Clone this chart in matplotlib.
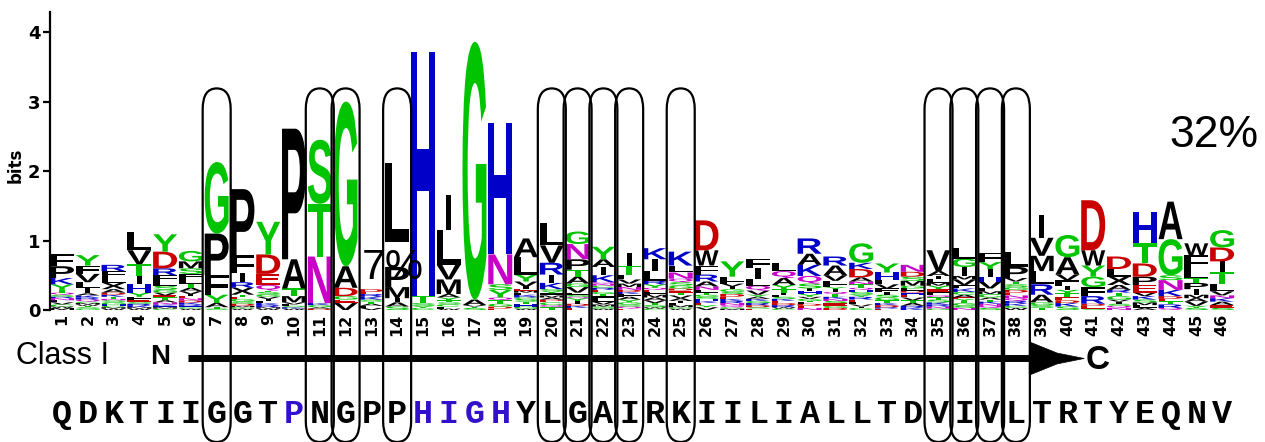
import matplotlib
matplotlib.use('Agg')
import matplotlib.pyplot as plt
from matplotlib.font_manager import FontProperties
from matplotlib.textpath import TextPath
from matplotlib.patches import PathPatch, FancyBboxPatch, Polygon
from matplotlib.transforms import Affine2D

positions = list(range(1, 47))

# residues of each stack, bottom to top (' ' = empty slot)
stack_letters = [
    'MWCVLNRSQTYKPF', 'GSTWMCQRKAILVFY', 'WMCHGSNTKDAXLFR', 'WMKRSEFYHITVL',
    'CMHKNATEVGSLFRDY', 'WCHRKDNEIVATLFSMG', 'STAYFPG', 'WCMDSGETXRIFP',
    'WMRKLIVGSTQEDY', 'WKSLVMTAP', 'DAGKNTS', 'VEGDAG',
    'VLATSKRED', 'SAIMP L', 'CYSTH', 'WFCSTYAMVLI',
    'STVAG', 'EDGTQYSNH', 'WGHTSCRKFMEIVYLA', 'TQCEDAMFYSKIRVL',
    'EKDIYQSLVGATPNG', 'WSMVLFTGERCNQKIAY', 'EQSGYAFKDNMVLTI', 'CWSTVAMFEQYRLIK',
    'WCMFIAVTEDGSQNLK', 'VYEKHSGTLNARFWD', 'MCQNRKEDSGIVFLY', 'ESDRGKAYVQLIF',
    'CWRDEKSFITYAQL', 'NEDLTGVYHISQKAR', 'DGESNKTQIYFLVAR', 'CIVLERYSHQTNADKG',
    'ERDKTGSIFVLHY', 'KRATVEHDLGMSDN', 'GNRKSTQFEYMLIAV', 'NSGTYEACKFVMIGL',
    'SQNKTACMLVHIYF', 'WCKRQNEDGSTVPL', 'TSGARLMVI', 'SKDETYILFVAG',
    'SEDRFGYWD', 'NQSIVGTRAXLD', 'ALMSKVEPDTH', 'QRTEDKNSGA',
    'SYVAMIPTLFW', 'SEAKNVLTIDG',
]

# height of each residue in bits, same order
stack_heights = [
    [.03, .02, .03, .03, .03, .03, .02, .03, .03, .04, .08, .09, .17, .18],
    [.02, .02, .02, .02, .02, .02, .03, .03, .03, .03, .08, .08, .12, .12, .15],
    [.02, .02, .02, .02, .03, .03, .02, .03, .03, .03, .05, .09, .07, .10, .09],
    [.02, .02, .02, .03, .03, .03, .04, .06, .12, .12, .17, .20, .26],
    [.02, .02, .02, .02, .03, .03, .04, .03, .04, .04, .06, .07, .08, .10, .24, .25],
    [.02, .02, .02, .02, .03, .03, .03, .03, .03, .04, .05, .06, .06, .08, .08, .10, .15],
    [.02, .02, .06, .12, .28, .60, 1.03],
    [.02, .02, .02, .03, .03, .04, .03, .03, .10, .08, .13, .26, .95],
    [.02, .02, .03, .03, .03, .03, .03, .03, .04, .02, .08, .16, .28, .47],
    [.02, .02, .02, .02, .03, .09, .11, .42, 1.88],
    [.02, .02, .03, .03, .67, .76, .92],
    [.10, .05, .05, .12, .31, 2.37],
    [.03, .03, .03, .03, .03, .04, .04, .03, .04],
    [.05, .06, .06, .16, .29, .36, 1.13],
    [.03, .03, .04, .10, 3.52],
    [.02, .03, .03, .03, .03, .04, .05, .21, .21, .50, .50],
    [.03, .02, .02, .08, 3.71],
    [.02, .03, .04, .05, .04, .11, .08, .43, 1.89],
    [.02, .03, .03, .04, .04, .02, .02, .02, .03, .03, .02, .04, .07, .10, .25, .27],
    [.04, .03, .04, .02, .02, .03, .03, .03, .03, .03, .09, .12, .17, .25, .32],
    [.03, .03, .03, .04, .04, .02, .03, .03, .08, .05, .10, .10, .15, .22, .18],
    [.02, .03, .03, .04, .04, .04, .03, .03, .03, .03, .03, .03, .02, .10, .12, .11, .18],
    [.02, .03, .03, .03, .04, .04, .04, .03, .03, .04, .05, .06, .07, .13, .18],
    [.02, .02, .03, .03, .04, .04, .04, .04, .03, .03, .05, .05, .14, .17, .16],
    [.02, .02, .03, .03, .03, .04, .04, .04, .03, .03, .04, .05, .05, .09, .10, .20],
    [.04, .03, .03, .03, .03, .03, .03, .03, .04, .05, .07, .10, .13, .22, .43],
    [.02, .02, .03, .03, .03, .03, .03, .04, .03, .04, .04, .04, .03, .07, .22],
    [.02, .02, .03, .03, .03, .03, .03, .03, .06, .07, .09, .16, .14],
    [.02, .02, .03, .03, .03, .03, .03, .03, .03, .05, .06, .10, .10, .11],
    [.03, .03, .03, .02, .02, .03, .03, .04, .04, .04, .07, .11, .16, .16, .22],
    [.03, .03, .04, .03, .03, .03, .04, .03, .04, .03, .04, .05, .08, .14, .13],
    [.03, .02, .03, .03, .04, .04, .03, .04, .03, .03, .05, .04, .06, .12, .09, .28],
    [.02, .02, .03, .03, .04, .04, .04, .04, .05, .06, .06, .11, .13],
    [.03, .03, .04, .04, .04, .04, .03, .03, .03, .04, .07, .06, .07, .10],
    [.02, .03, .03, .03, .04, .03, .03, .05, .04, .05, .04, .05, .05, .07, .30],
    [.03, .03, .04, .03, .03, .02, .04, .04, .05, .05, .08, .05, .13, .12, .15],
    [.03, .03, .03, .03, .03, .03, .05, .04, .04, .10, .07, .11, .10, .13],
    [.03, .03, .03, .04, .04, .04, .04, .04, .04, .04, .04, .05, .16, .22],
    [.03, .04, .04, .11, .15, .19, .22, .26, .33],
    [.05, .05, .04, .04, .06, .05, .05, .05, .04, .08, .25, .32],
    [.02, .04, .03, .11, .13, .15, .16, .22, .72],
    [.03, .03, .03, .03, .03, .05, .05, .04, .07, .12, .11, .18],
    [.03, .04, .04, .04, .05, .05, .11, .12, .19, .29, .45],
    [.03, .05, .05, .03, .04, .09, .14, .07, .52, .54],
    [.03, .03, .06, .05, .05, .08, .09, .07, .13, .20, .17],
    [.03, .04, .05, .05, .04, .06, .11, .17, .15, .20, .25],
]

query = 'QDKTIIGGTPNGPPHIGHYLGAIRKIILIALLTDVIVLTRTYEQNV'
query_blue = [10, 15, 16, 17, 18]
boxed = [7, 11, 12, 14, 20, 21, 22, 23, 25, 35, 36, 37, 38]

# chemistry colouring
colour = {}
for aa in 'GSTYC':
    colour[aa] = '#00c400'
for aa in 'NQ':
    colour[aa] = '#c800c8'
for aa in 'KRH':
    colour[aa] = '#0000c8'
for aa in 'DE':
    colour[aa] = '#c80000'

logo_font = FontProperties(family='Liberation Sans', weight='bold')


def draw_letter(ax, ch, x, y, h):
    path = TextPath((0, 0), ch, size=100, prop=logo_font)
    bb = path.get_extents()
    w = 0.2 if ch == 'I' else 0.93
    tr = (Affine2D().translate(-(bb.x0 + bb.x1) / 2, -bb.y0)
          .scale(w / bb.width, h / bb.height).translate(x, y))
    ax.add_patch(PathPatch(tr.transform_path(path), fc=colour.get(ch, 'black'),
                           ec='none', lw=0, zorder=2))


fig = plt.figure(figsize=(12.65, 4.42), dpi=100)
ax = fig.add_axes([50 / 1265, 132 / 442, 1185 / 1265, 298 / 442])
ax.set_xlim(0.535, 46.5)
ax.set_ylim(0, 4.29)

for p, lets, hs in zip(positions, stack_letters, stack_heights):
    y = 0.0
    for ch, h in zip(lets, hs):
        if ch != ' ':
            draw_letter(ax, ch, p, y, h)
        y += h

for s in ['top', 'right', 'bottom']:
    ax.spines[s].set_visible(False)
ax.spines['left'].set_linewidth(1.6)
ax.set_yticks([0, 1, 2, 3, 4])
ax.tick_params(axis='y', length=5, width=1.6, labelsize=13, pad=2)
ax.set_xticks(positions)
ax.set_xticklabels([str(p) for p in positions], rotation=90, fontsize=11.5,
                   fontweight='bold')
ax.tick_params(axis='x', length=0, pad=3)
for lab in ax.get_yticklabels():
    lab.set_fontweight('bold')
ax.text(-0.8, 2.09, 'bits', rotation=90, fontsize=12, fontweight='bold',
        ha='center', va='center', clip_on=False)

# conserved positions
for p in boxed:
    ax.add_patch(FancyBboxPatch((p - 0.543, -1.9), 1.086, 3.19 + 1.9,
                                boxstyle='round,pad=0,rounding_size=0.543',
                                mutation_aspect=0.55, fill=False, ec='black',
                                lw=1.6, clip_on=False, zorder=5))

# N -> C arrow
ax.plot([5.884, 38.9], [-0.698, -0.698], color='black', lw=5,
        solid_capstyle='butt', clip_on=False, zorder=3)
ax.add_patch(Polygon([(38.52, -0.458), (39.6, -0.62), (40.65, -0.698),
                      (39.6, -0.776), (38.52, -0.938)], closed=True,
                     fc='black', ec='black', lw=0.5, clip_on=False, zorder=3))
ax.text(-0.783, -0.662, 'Class I', fontsize=22, ha='left', va='center',
        family='Liberation Sans', clip_on=False)
ax.text(4.8, -0.676, 'N', fontsize=20, fontweight='bold', ha='center',
        va='center', family='Liberation Sans', clip_on=False)
ax.text(41.19, -0.734, 'C', fontsize=24, fontweight='bold', ha='center',
        va='center', family='Liberation Sans', clip_on=False)

for p, aa in zip(positions, query):
    ax.text(p, -1.5, aa, fontsize=24, fontweight='bold', family='Liberation Mono',
            color='#3311cc' if p in query_blue else 'black',
            ha='center', va='center', clip_on=False, zorder=3)

ax.text(43.95, 2.35, '32%', fontsize=32, family='Liberation Sans',
        ha='left', va='baseline', clip_on=False)
ax.text(12.63, 0.446, '7%', fontsize=31, family='Liberation Sans',
        ha='left', va='baseline', clip_on=False, zorder=6)

fig.savefig('out.png', dpi=100)
